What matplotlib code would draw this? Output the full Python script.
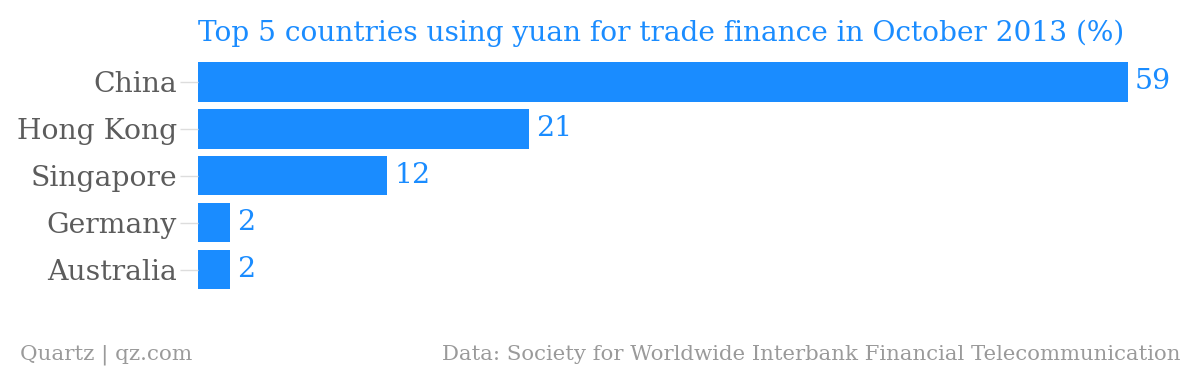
import matplotlib
matplotlib.use("Agg")
import matplotlib.pyplot as plt

countries = ["China", "Hong Kong", "Singapore", "Germany", "Australia"]
shares = [59, 21, 12, 2, 2]

title = "Top 5 countries using yuan for trade finance in October 2013 (%)"
credit = "Quartz | qz.com"
source = "Data: Society for Worldwide Interbank Financial Telecommunication"

blue = "#1a8cff"
label_grey = "#5c5c5c"
foot_grey = "#9a9a9a"
plt.rcParams["font.family"] = ["DejaVu Serif"]

fig = plt.figure(figsize=(12, 3.7), dpi=100)
ax = fig.add_axes([198 / 1200, 1 - 293 / 370, 930 / 1200, 234.5 / 370])

ypos = list(range(len(countries)))
ax.barh(ypos, shares, height=0.84, color=blue)
ax.set_xlim(0, 59)
ax.set_ylim(len(countries) - 0.5, -0.5)
ax.set_yticks(ypos)
ax.set_yticklabels(countries, fontsize=20.3, color=label_grey)
ax.tick_params(axis="y", length=13, width=1, color="#dddddd", pad=2)
ax.set_xticks([])
for s in ax.spines.values():
    s.set_visible(False)

for y, v in zip(ypos, shares):
    ax.text(v + 0.45, y, str(v), va="center", ha="left", fontsize=20.5, color=blue)

fig.text(198 / 1200, 1 - 33 / 370, title, fontsize=20.2, color=blue, ha="left", va="center")
fig.text(20 / 1200, 1 - 355 / 370, credit, fontsize=15.4, color=foot_grey, ha="left", va="center")
fig.text(1180 / 1200, 1 - 355 / 370, source, fontsize=15.3, color=foot_grey, ha="right", va="center")

fig.savefig("out.png", dpi=100)
